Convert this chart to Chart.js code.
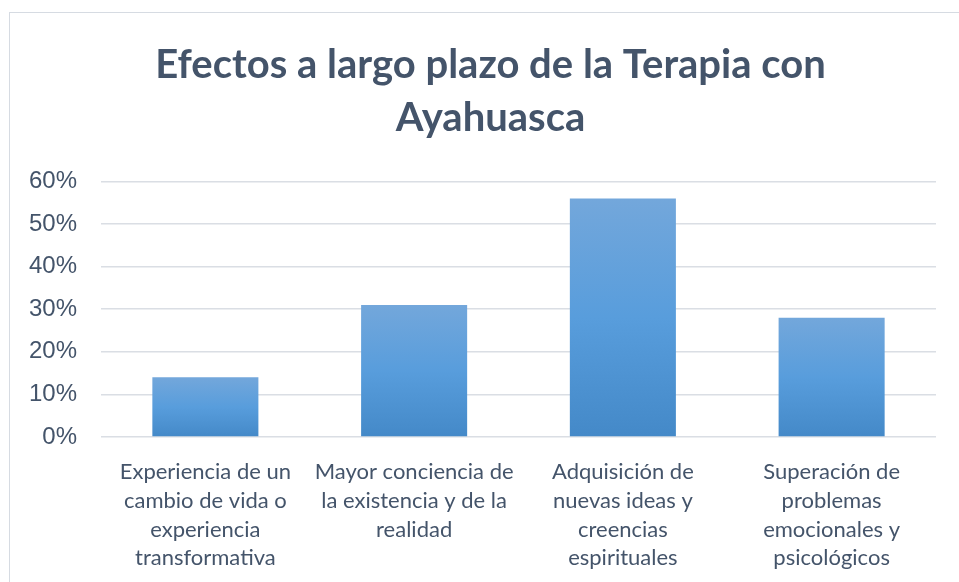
<!DOCTYPE html>
<html>
<head>
<meta charset="utf-8">
<script src="https://cdn.jsdelivr.net/npm/chart.js@4"></script>
<style>
  html, body { margin: 0; padding: 0; background: #fff; overflow: hidden; }
  #frame { position: absolute; left: 9px; top: 12px; width: 1000px; height: 700px;
           border-left: 1px solid #d6dbe2; border-top: 1px solid #d6dbe2; }
  #wrap { position: absolute; left: 0; top: 0; width: 981px; height: 582px; }
</style>
</head>
<body>
<div id="frame"></div>
<!-- the original chart box runs past the right edge, so the canvas is a bit wider than the window -->
<div id="wrap"><canvas id="chart" width="981" height="582"></canvas></div>
<script>
// categories (multi-line labels as in the original)
const categories = [
    ['Experiencia de un', 'cambio de vida o', 'experiencia', 'transformativa'],
    ['Mayor conciencia de', 'la existencia y de la', 'realidad'],
    ['Adquisición de', 'nuevas ideas y', 'creencias', 'espirituales'],
    ['Superación de', 'problemas', 'emocionales y', 'psicológicos']
];
const values = [0.14, 0.31, 0.56, 0.28];
const titleLines = ['Efectos a largo plazo de la Terapia con', 'Ayahuasca'];
const yTicks = [0, 0.1, 0.2, 0.3, 0.4, 0.5, 0.6];

const textColor = '#44546a';

// each bar gets its own light-to-dark gradient, top to bottom
function barGradient(context) {
    const chart = context.chart;
    const yScale = chart.scales.y;
    if (!chart.chartArea || !yScale || context.raw === undefined) return '#5b9bd5';
    const top = yScale.getPixelForValue(context.raw);
    const bottom = yScale.getPixelForValue(0);
    const g = chart.ctx.createLinearGradient(0, top, 0, bottom);
    g.addColorStop(0, '#73a7db');
    g.addColorStop(0.5, '#589ddc');
    g.addColorStop(1, '#4489c8');
    return g;
}

const ctx = document.getElementById('chart').getContext('2d');
new Chart(ctx, {
    type: 'bar',
    data: {
        labels: categories,
        datasets: [{
            data: values,
            backgroundColor: barGradient,
            borderWidth: 0,
            barPercentage: 0.508,
            categoryPercentage: 1
        }]
    },
    options: {
        responsive: false,
        animation: false,
        layout: { padding: 0 },
        plugins: {
            legend: { display: false },
            tooltip: { enabled: false },
            title: {
                display: true,
                text: titleLines,
                color: textColor,
                font: { family: 'Lato', size: 40, weight: 'bold', lineHeight: 1.33 },
                padding: { top: 38, bottom: 37 }
            }
        },
        scales: {
            x: {
                grid: { display: false },
                border: { display: false },
                afterFit: scale => { scale.height = 145; },
                ticks: {
                    color: textColor,
                    font: { family: 'Lato', size: 22, lineHeight: 1.3 },
                    padding: 13,
                    maxRotation: 0,
                    autoSkip: false
                }
            },
            y: {
                min: 0,
                max: 0.6,
                afterBuildTicks: scale => { scale.ticks = yTicks.map(v => ({ value: v })); },
                afterFit: scale => { scale.width = 101; },
                grid: { color: '#dadee4', lineWidth: 1.5, drawTicks: false },
                border: { display: false },
                ticks: {
                    color: textColor,
                    font: { family: 'Liberation Sans', size: 24 },
                    padding: 24,
                    callback: v => Math.round(v * 100) + '%'
                }
            },
            // empty right-hand spacer so the plot stops short while the title stays centred on the box
            spacer: {
                position: 'right',
                min: 0,
                max: 1,
                afterFit: scale => { scale.width = 45; },
                grid: { display: false, drawOnChartArea: false },
                border: { display: false },
                ticks: { display: false }
            }
        }
    }
});
</script>
</body>
</html>
